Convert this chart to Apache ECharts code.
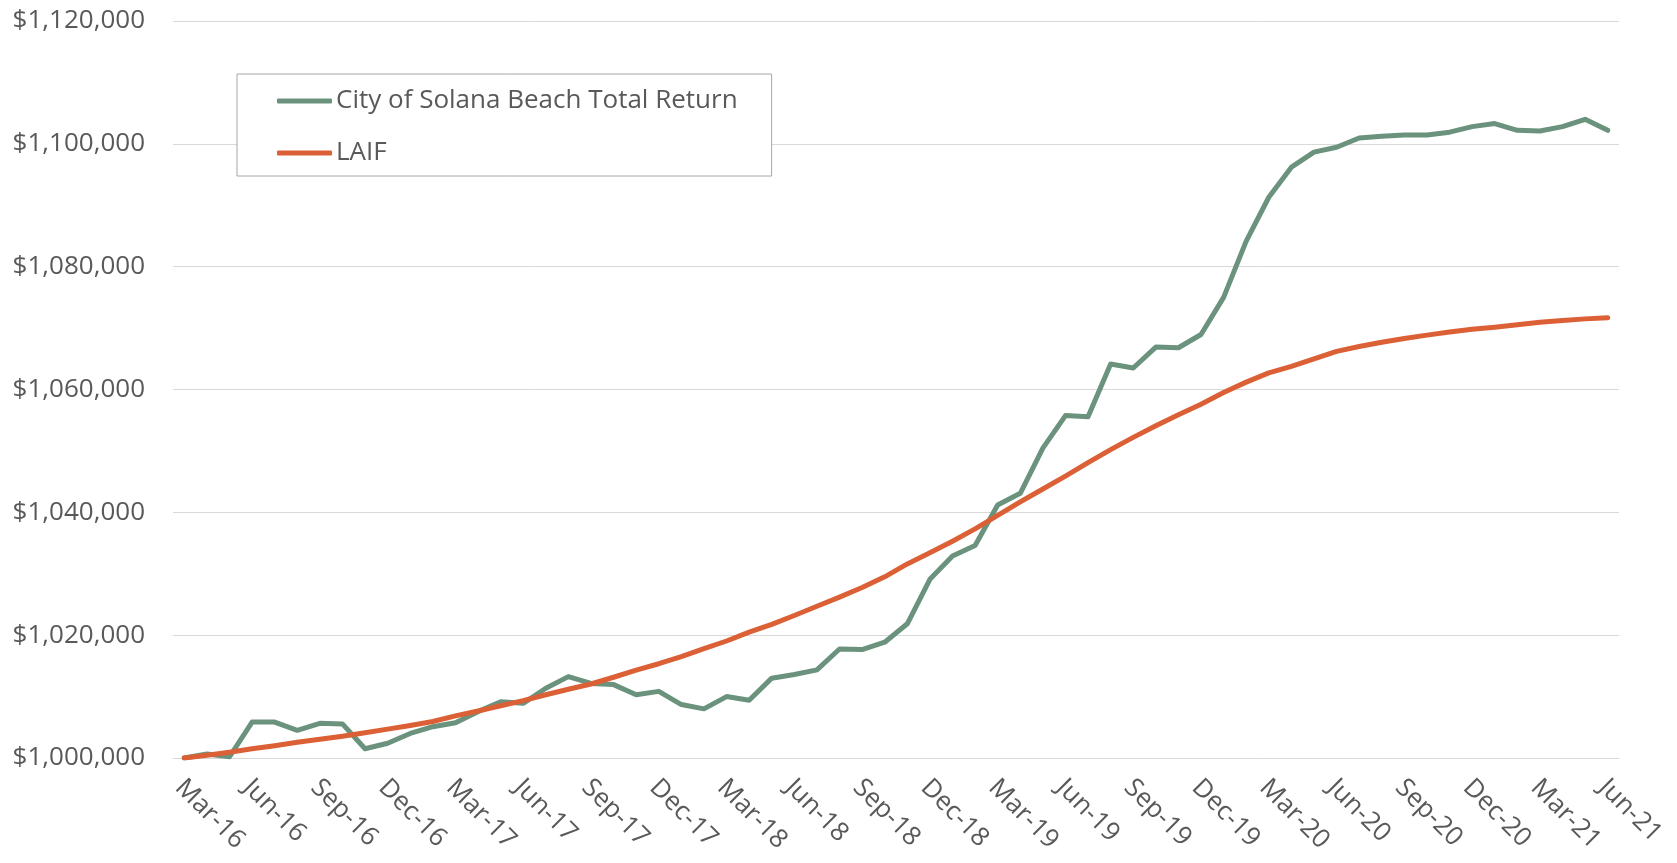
<!DOCTYPE html>
<html>
<head>
<meta charset="utf-8">
<title>City of Solana Beach Total Return vs LAIF</title>
<script src="https://cdn.jsdelivr.net/npm/echarts@6/dist/echarts.min.js"></script>
<style>
  html, body { margin: 0; padding: 0; background: #ffffff; }
  #chart { width: 1677px; height: 863px; }
</style>
</head>
<body>
<div id="chart"></div>
<script>
// Month-end categories, Mar-16 through Jun-21
const months = [
  'Mar-16','Apr-16','May-16','Jun-16','Jul-16','Aug-16','Sep-16','Oct-16','Nov-16','Dec-16',
  'Jan-17','Feb-17','Mar-17','Apr-17','May-17','Jun-17','Jul-17','Aug-17','Sep-17','Oct-17','Nov-17','Dec-17',
  'Jan-18','Feb-18','Mar-18','Apr-18','May-18','Jun-18','Jul-18','Aug-18','Sep-18','Oct-18','Nov-18','Dec-18',
  'Jan-19','Feb-19','Mar-19','Apr-19','May-19','Jun-19','Jul-19','Aug-19','Sep-19','Oct-19','Nov-19','Dec-19',
  'Jan-20','Feb-20','Mar-20','Apr-20','May-20','Jun-20','Jul-20','Aug-20','Sep-20','Oct-20','Nov-20','Dec-20',
  'Jan-21','Feb-21','Mar-21','Apr-21','May-21','Jun-21'
];

// Growth of $1,000,000 — portfolio total return
const solanaBeach = [
  1000000, 1000650, 1000200, 1005850, 1005850, 1004500, 1005650, 1005550, 1001500, 1002400,
  1004000, 1005100, 1005750, 1007550, 1009150, 1008900, 1011350, 1013250, 1012150, 1011950, 1010300, 1010850,
  1008700, 1008000, 1010000, 1009400, 1013000, 1013600, 1014350, 1017750, 1017650, 1018850, 1021850, 1029100,
  1032900, 1034600, 1041200, 1043100, 1050450, 1055750, 1055550, 1064150, 1063500, 1066900, 1066800, 1068950,
  1075000, 1084150, 1091300, 1096200, 1098650, 1099450, 1100950, 1101250, 1101450, 1101450, 1101900, 1102800,
  1103300, 1102200, 1102100, 1102800, 1104000, 1102200
];

// Growth of $1,000,000 — LAIF
const laif = [
  1000000, 1000450, 1000950, 1001500, 1002000, 1002550, 1003050, 1003550, 1004100, 1004700,
  1005300, 1005950, 1006850, 1007650, 1008500, 1009350, 1010300, 1011200, 1012050, 1013150, 1014300, 1015350,
  1016500, 1017800, 1019050, 1020500, 1021750, 1023200, 1024700, 1026200, 1027750, 1029500, 1031600, 1033400,
  1035300, 1037300, 1039500, 1041700, 1043800, 1045900, 1048100, 1050200, 1052200, 1054100, 1055900, 1057600,
  1059500, 1061200, 1062700, 1063750, 1065000, 1066200, 1067000, 1067700, 1068300, 1068850, 1069350, 1069800,
  1070150, 1070550, 1070950, 1071250, 1071500, 1071700
];

const seriesNames = ['City of Solana Beach Total Return', 'LAIF'];

const FONT = '"Open Sans", "Liberation Sans", sans-serif';
const TEXT = '#595959';
const GRID = '#d9d9d9';
const GREEN = '#6a927d';
const ORANGE = '#dc6036';

const fmtDollar = v => '$' + Math.round(v).toLocaleString('en-US');

const chart = echarts.init(document.getElementById('chart'), null, { renderer: 'canvas' });

chart.setOption({
  animation: false,
  backgroundColor: '#ffffff',
  grid: { left: 173, right: 58, top: 21, bottom: 105, containLabel: false },
  legend: {
    orient: 'vertical',
    left: 237,
    top: 74,
    padding: [14, 34, 10, 40],
    icon: 'roundRect',
    itemWidth: 55,
    itemHeight: 5,
    itemGap: 26,
    borderColor: '#a6a6a6',
    borderWidth: 1,
    backgroundColor: '#ffffff',
    data: seriesNames,
    textStyle: { fontFamily: FONT, fontSize: 26, color: TEXT, lineHeight: 26, padding: [0, 0, 0, -1] }
  },
  xAxis: {
    type: 'category',
    data: months,
    boundaryGap: true,
    axisLine: { lineStyle: { color: GRID, width: 1 } },
    axisTick: { interval: 2, length: 9, lineStyle: { color: GRID } },
    axisLabel: {
      interval: 2,
      rotate: -45,
      align: 'left',
      verticalAlign: 'top',
      margin: 12,
      padding: [0, 0, 0, 6],
      fontFamily: FONT,
      fontSize: 26,
      lineHeight: 26,
      color: TEXT
    },
    splitLine: { show: false }
  },
  yAxis: {
    type: 'value',
    min: 1000000,
    max: 1120000,
    interval: 20000,
    axisLine: { show: false },
    axisTick: { show: false },
    axisLabel: {
      margin: 28,
      fontFamily: FONT,
      fontSize: 26,
      color: TEXT,
      formatter: fmtDollar
    },
    splitLine: { lineStyle: { color: GRID, width: 1 } }
  },
  series: [
    {
      name: seriesNames[0],
      type: 'line',
      data: solanaBeach,
      symbol: 'none',
      smooth: false,
      lineStyle: { color: GREEN, width: 5, cap: 'round', join: 'round' },
      itemStyle: { color: GREEN },
      z: 3
    },
    {
      name: seriesNames[1],
      type: 'line',
      data: laif,
      symbol: 'none',
      smooth: false,
      lineStyle: { color: ORANGE, width: 5, cap: 'round', join: 'round' },
      itemStyle: { color: ORANGE },
      z: 4
    }
  ]
});
</script>
</body>
</html>
